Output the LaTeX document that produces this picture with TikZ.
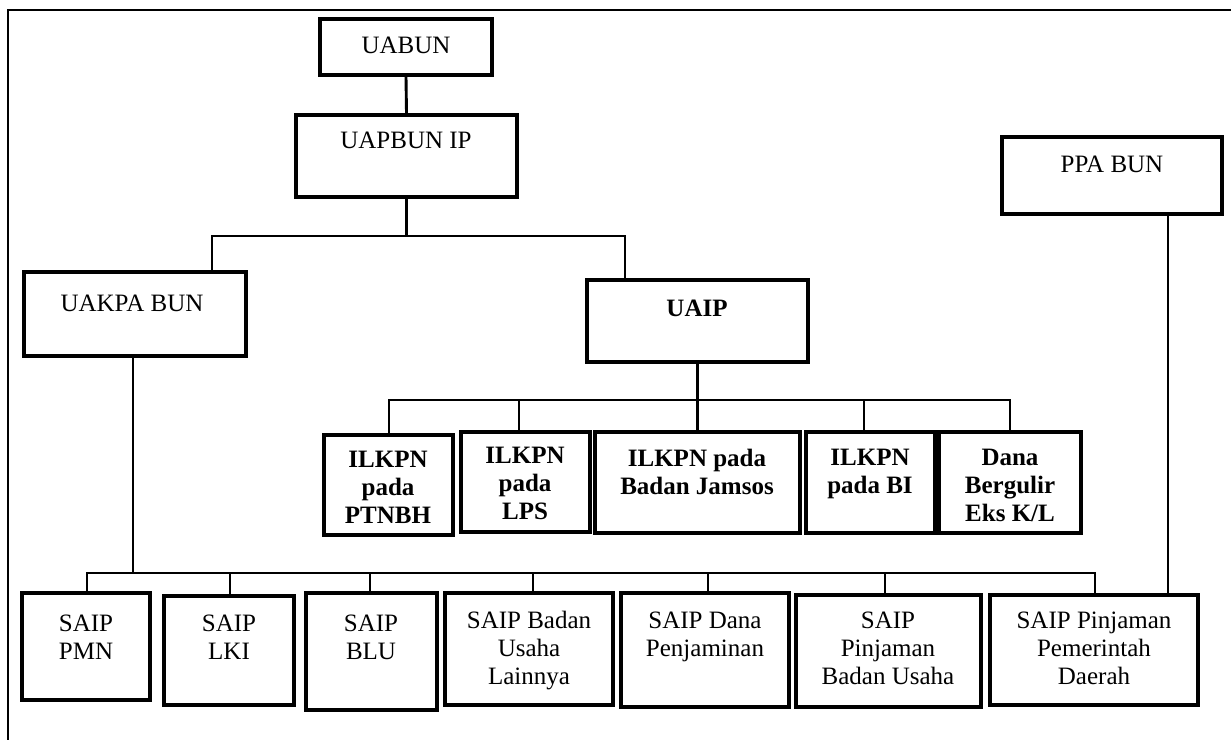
\documentclass[tikz,border=0pt]{standalone}
\usepackage{fontspec}
\setmainfont{Liberation Serif}
\begin{document}
\begin{tikzpicture}[x=1pt,y=-1pt,
  box/.style={draw,rectangle,line width=3.1pt,inner sep=0pt},
  thickbox/.style={line width=4.2pt},
  lbl/.style={anchor=north,inner sep=0pt,align=center,
    font=\fontsize{25}{28}\selectfont},
  blbl/.style={lbl,font=\fontsize{25}{28}\selectfont\bfseries},
  conn/.style={line width=2.9pt},
  frame/.style={line width=2.2pt}]
\useasboundingbox (0,0) rectangle (1231,740);

% box from corner (x1,y1) to corner (x2,y2)
\newcommand\orgbox[6][]{%
  \node[box,#1,minimum width={#4pt-#2pt},minimum height={#5pt-#3pt}]
    (#6) at ({(#2+#4)/2},{(#3+#5)/2}) {};}

% outer frame (top and left edges)
\coordinate (frtr) at (1231,10);
\coordinate (frtl) at (8,10);
\coordinate (frbl) at (8,740);
\draw[frame] (frtr) -- (frtl) -- (frbl);

% upper levels
\orgbox{320}{19}{492}{75}{uabun}
\orgbox{296}{115}{517}{197}{uapbun}
\orgbox{1002}{137}{1222}{214}{ppabun}
\orgbox{24}{272}{246}{356}{uakpa}
\orgbox{587}{280}{808}{362}{uaip}

\node[lbl] (tuabun) at (406,37) {UABUN};
\node[lbl] (tuapbun) at (406,132) {UAPBUN IP};
\node[lbl] (tppabun) at (1112,156) {PPA BUN};
\node[lbl] (tuakpa) at (132,295) {UAKPA BUN};
\node[blbl] (tuaip) at (697,300) {UAIP};

% ILKPN row
\orgbox[thickbox]{324}{435}{453}{535}{p1}
\orgbox{461}{432}{590}{532}{p2}
\orgbox{595}{432}{800}{533}{p3}
\orgbox{806}{432}{935}{533}{p4}
\orgbox{939}{432}{1081}{533}{p5}

\node[blbl] (tp1) at (388,451) {ILKPN\\pada\\PTNBH};
\node[blbl] (tp2) at (525,447) {ILKPN\\pada\\LPS};
\node[blbl] (tp3) at (697,449) {ILKPN pada\\Badan Jamsos};
\node[blbl] (tp4) at (870,449) {ILKPN\\pada BI};
\node[blbl] (tp5) at (1010,449) {Dana\\Bergulir\\Eks K/L};

% SAIP row
\orgbox{22}{593}{150}{700}{s1}
\orgbox{164}{596}{294}{705}{s2}
\orgbox{306}{593}{437}{710}{s3}
\orgbox{445}{593}{613}{705}{s4}
\orgbox{621}{593}{789}{707}{s5}
\orgbox{796}{595}{981}{707}{s6}
\orgbox{990}{595}{1198}{705}{s7}

\node[lbl] (ts1) at (86,615) {SAIP\\PMN};
\node[lbl] (ts2) at (229,615) {SAIP\\LKI};
\node[lbl] (ts3) at (371,615) {SAIP\\BLU};
\node[lbl] (ts4) at (529,611) {SAIP Badan\\Usaha\\Lainnya};
\node[lbl] (ts5) at (705,612) {SAIP Dana\\Penjaminan};
\node[lbl] (ts6) at (888,612) {SAIP\\Pinjaman\\Badan Usaha};
\node[lbl] (ts7) at (1094,612) {SAIP Pinjaman\\Pemerintah\\Daerah};

% connectors: UABUN -> UAPBUN IP -> UAKPA BUN / UAIP
\draw[conn] (uabun.south) -- (uapbun.north);
\coordinate (ha) at (212,236);
\coordinate (hb) at (625,236);
\draw[conn] (uapbun.south) -- (uapbun.south |- ha);
\draw[conn] (ha |- uakpa.north) -- (ha) -- (hb) -- (hb |- uaip.north);

% connectors: UAIP -> ILKPN row
\coordinate (ka) at (389,400);
\coordinate (kb) at (519,400);
\coordinate (kc) at (864,400);
\coordinate (kd) at (1010,400);
\draw[conn] (uaip.south) -- (uaip.south |- ka);
\draw[conn] (ka |- p1.north) -- (ka) -- (kd) -- (kd |- p5.north);
\draw[conn] (kb) -- (kb |- p2.north);
\draw[conn] (p3.north |- ka) -- (p3.north);
\draw[conn] (kc) -- (kc |- p4.north);

% connectors: UAKPA BUN -> SAIP row
\coordinate (ua) at (133,573);
\coordinate (sa) at (87,573);
\coordinate (sb) at (230,573);
\coordinate (sc) at (370,573);
\coordinate (sd) at (533,573);
\coordinate (se) at (708,573);
\coordinate (sf) at (885,573);
\coordinate (sg) at (1095,573);
\draw[conn] (ua |- uakpa.south) -- (ua);
\draw[conn] (sa |- s1.north) -- (sa) -- (sg) -- (sg |- s7.north);
\draw[conn] (sb) -- (sb |- s2.north);
\draw[conn] (sc) -- (sc |- s3.north);
\draw[conn] (sd) -- (sd |- s4.north);
\draw[conn] (se) -- (se |- s5.north);
\draw[conn] (sf) -- (sf |- s6.north);

% connector: PPA BUN -> SAIP Pinjaman Pemerintah Daerah
\coordinate (pp) at (1168,0);
\draw[conn] (pp |- ppabun.south) -- (pp |- s7.north);
\end{tikzpicture}
\end{document}
